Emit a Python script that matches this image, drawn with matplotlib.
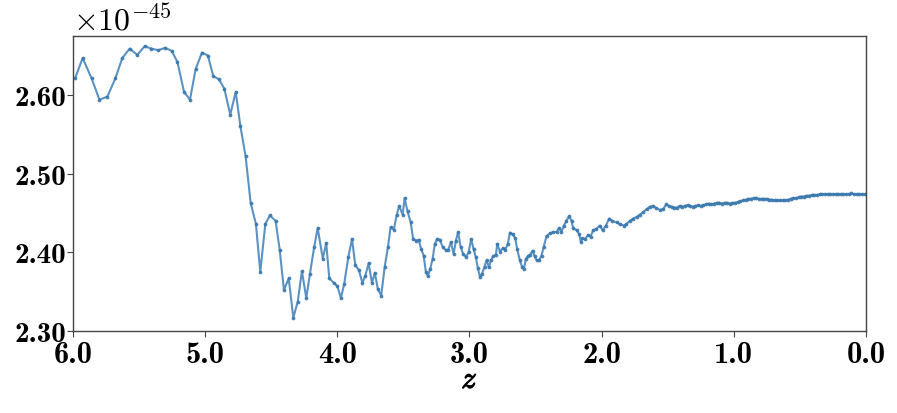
import matplotlib
matplotlib.use("Agg")
import matplotlib.pyplot as plt
import matplotlib.patheffects as pe
from matplotlib.ticker import FixedLocator

plt.rcParams['mathtext.fontset'] = 'cm'
plt.rcParams['axes.unicode_minus'] = False

z = [5.985, 5.927, 5.859, 5.800, 5.740, 5.680, 5.627, 5.571, 5.514, 5.458,
     5.408, 5.355, 5.302, 5.253, 5.210, 5.160, 5.115, 5.072, 5.024, 4.979,
     4.939, 4.896, 4.855, 4.810, 4.769, 4.734, 4.694, 4.656, 4.616, 4.583,
     4.545, 4.510, 4.467, 4.436, 4.404, 4.368, 4.333, 4.300, 4.268, 4.235,
     4.207, 4.175, 4.149, 4.110, 4.084, 4.061, 4.026, 4.000, 3.973, 3.948,
     3.917, 3.889, 3.864, 3.836, 3.810, 3.789, 3.763, 3.738, 3.716, 3.693,
     3.668, 3.642, 3.617, 3.597, 3.572, 3.552, 3.532, 3.506, 3.491, 3.469,
     3.446, 3.426, 3.405, 3.385, 3.365, 3.347, 3.330, 3.315, 3.297, 3.279,
     3.262, 3.244, 3.224, 3.204, 3.181, 3.161, 3.141, 3.120, 3.103, 3.086,
     3.067, 3.048, 3.027, 3.007, 2.987, 2.969, 2.952, 2.937, 2.921, 2.904,
     2.886, 2.871, 2.853, 2.838, 2.821, 2.800, 2.790, 2.770, 2.750, 2.730,
     2.710, 2.694, 2.674, 2.654, 2.639, 2.619, 2.603, 2.588, 2.573, 2.558,
     2.543, 2.523, 2.508, 2.492, 2.473, 2.455, 2.438, 2.417, 2.392, 2.367,
     2.341, 2.322, 2.304, 2.286, 2.266, 2.246, 2.228, 2.216, 2.190, 2.170,
     2.157, 2.145, 2.127, 2.102, 2.084, 2.064, 2.039, 2.014, 1.993, 1.968,
     1.943, 1.918, 1.887, 1.862, 1.832, 1.812, 1.787, 1.762, 1.736, 1.711,
     1.686, 1.660, 1.635, 1.610, 1.585, 1.560, 1.535, 1.510, 1.490, 1.470,
     1.450, 1.430, 1.410, 1.390, 1.370, 1.350, 1.330, 1.310, 1.290, 1.270,
     1.250, 1.230, 1.210, 1.190, 1.170, 1.150, 1.130, 1.110, 1.090, 1.070,
     1.050, 1.030, 1.010, 0.990, 0.970, 0.950, 0.930, 0.910, 0.890, 0.870,
     0.850, 0.830, 0.810, 0.790, 0.770, 0.750, 0.730, 0.710, 0.690, 0.670,
     0.650, 0.630, 0.610, 0.590, 0.570, 0.550, 0.530, 0.510, 0.490, 0.470,
     0.450, 0.430, 0.410, 0.390, 0.370, 0.350, 0.330, 0.310, 0.290, 0.270,
     0.250, 0.230, 0.210, 0.190, 0.170, 0.150, 0.130, 0.110, 0.090, 0.070,
     0.050, 0.030, 0.010]

value_e45 = [2.621, 2.647, 2.621, 2.594, 2.598, 2.621, 2.647, 2.659, 2.651, 2.662,
             2.659, 2.657, 2.660, 2.656, 2.642, 2.604, 2.594, 2.633, 2.654, 2.650,
             2.624, 2.620, 2.608, 2.575, 2.604, 2.561, 2.522, 2.463, 2.436, 2.375,
             2.436, 2.447, 2.440, 2.403, 2.352, 2.367, 2.317, 2.337, 2.376, 2.342,
             2.373, 2.407, 2.431, 2.392, 2.412, 2.367, 2.361, 2.357, 2.342, 2.360,
             2.394, 2.417, 2.384, 2.377, 2.361, 2.370, 2.386, 2.361, 2.374, 2.353,
             2.345, 2.381, 2.407, 2.432, 2.429, 2.447, 2.459, 2.448, 2.469, 2.452,
             2.439, 2.417, 2.415, 2.416, 2.404, 2.396, 2.375, 2.370, 2.379, 2.392,
             2.411, 2.417, 2.416, 2.407, 2.403, 2.403, 2.413, 2.398, 2.415, 2.426,
             2.407, 2.398, 2.394, 2.400, 2.417, 2.404, 2.394, 2.380, 2.369, 2.373,
             2.382, 2.390, 2.381, 2.390, 2.395, 2.397, 2.411, 2.401, 2.405, 2.403,
             2.411, 2.425, 2.423, 2.418, 2.404, 2.390, 2.382, 2.379, 2.392, 2.395,
             2.397, 2.402, 2.395, 2.390, 2.390, 2.396, 2.407, 2.421, 2.424, 2.426,
             2.426, 2.431, 2.426, 2.434, 2.440, 2.446, 2.440, 2.431, 2.428, 2.423,
             2.413, 2.418, 2.417, 2.422, 2.420, 2.428, 2.430, 2.434, 2.428, 2.434,
             2.443, 2.440, 2.438, 2.436, 2.434, 2.436, 2.440, 2.443, 2.445, 2.448,
             2.451, 2.455, 2.458, 2.459, 2.456, 2.454, 2.455, 2.461, 2.459, 2.458,
             2.457, 2.457, 2.459, 2.458, 2.459, 2.460, 2.459, 2.458, 2.459, 2.460,
             2.459, 2.460, 2.461, 2.462, 2.461, 2.462, 2.463, 2.463, 2.462, 2.463,
             2.463, 2.462, 2.463, 2.463, 2.464, 2.465, 2.466, 2.467, 2.468, 2.468,
             2.469, 2.469, 2.468, 2.468, 2.468, 2.468, 2.467, 2.467, 2.466, 2.466,
             2.466, 2.466, 2.466, 2.467, 2.468, 2.469, 2.469, 2.470, 2.471, 2.471,
             2.472, 2.472, 2.473, 2.473, 2.473, 2.474, 2.474, 2.474, 2.474, 2.474,
             2.474, 2.474, 2.474, 2.474, 2.474, 2.474, 2.474, 2.475, 2.474, 2.474,
             2.474, 2.474, 2.474]

scale = 1e-45
values = [v * scale for v in value_e45]

x_ticks = [6.0, 5.0, 4.0, 3.0, 2.0, 1.0, 0.0]
x_tick_labels = ['6.0', '5.0', '4.0', '3.0', '2.0', '1.0', '0.0']
y_ticks_e45 = [2.30, 2.40, 2.50, 2.60]
y_tick_labels = ['2.30', '2.40', '2.50', '2.60']

fig = plt.figure(figsize=(8.97, 4.14), dpi=100)
ax = fig.add_axes([0.0814, 0.198, 0.884, 0.7126])

ax.plot(z, values, color='#4a86bd', lw=1.5, marker='o', ms=2.7,
        markerfacecolor='#3a78ad', markeredgewidth=0, alpha=0.9)

ax.set_xlim(6.0, 0.0)
ax.set_ylim(2.30 * scale, 2.675 * scale)
ax.xaxis.set_major_locator(FixedLocator(x_ticks))
ax.yaxis.set_major_locator(FixedLocator([t * scale for t in y_ticks_e45]))
ax.set_xticklabels(x_tick_labels, fontfamily='cmb10', fontsize=22)
ax.set_yticklabels(y_tick_labels, fontfamily='cmb10', fontsize=21)
ax.tick_params(length=4, width=0.8, color='#444444')
ax.tick_params(axis='x', pad=3)
ax.tick_params(axis='y', pad=1)
for s in ax.spines.values():
    s.set_color('#444444')
    s.set_linewidth(1.0)

ax.text(0.0, 0.995, r'$\times 10^{-45}$', transform=ax.transAxes,
        fontsize=23, ha='left', va='bottom')
ax.set_xlabel(r'$z$', fontsize=22, labelpad=-2,
              path_effects=[pe.withStroke(linewidth=0.9, foreground='black')])

fig.savefig('out.png', dpi=100)
